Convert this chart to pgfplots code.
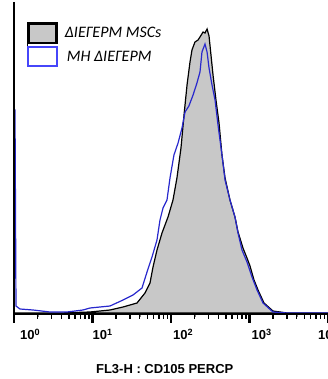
\documentclass[border=0pt]{standalone}
\usepackage{pgfplots}
\pgfplotsset{compat=1.18}
\usepackage{fontspec}
\setmainfont{Liberation Sans}
\newfontfamily\legendfont{Carlito}
\definecolor{histgray}{RGB}{200,200,200}
\definecolor{histblue}{RGB}{40,40,205}
\definecolor{boxblue}{RGB}{70,70,250}

% CD105 PerCP histograms (FL3-H), stimulated vs. unstimulated MSCs
\pgfplotstableread{
x      count
1      0
3.85   0
9.29   1
16.7   3
24.5   6
36.9   10
46.6   20
54.0   30
59.0   46
66.3   63
76.8   80
91.6   96
106    113
119    135
134    165
146.5  198
160    228
174.6  251
185    263
202    271
221    273
234    276
256    281
271    280
288    284
305    277
323    258
343    238
374    213
409    190
446    158
488    135
564    113
653    96
714    81
826    65
929    55
1015   47
1141   33
1283   23
1530   10
1991   2
3006   0
10000  0
}\stimulated

\pgfplotstableread{
x      count
1      0
1      203
1.03   203
1.06   7
1.19   4
1.75   3
2.87   1
4.73   1
7.57   3
9.29   5
16.7   7
24.5   13
32.8   18
42.7   25
49.5   41
57.3   56
66.3   73
72.4   93
79.1   105
88.9   113
97.1   135
109    158
123    170
138    185
151    201
169    207
191    218
214    230
234    241
248    261
271    269
288    261
305    245
333    228
364    213
397    188
446    158
488    133
564    113
653    96
714    80
802    63
929    51
1076   36
1247   23
1486   10
1991   1
3006   0
10000  0
}\unstimulated

\begin{document}
\begin{tikzpicture}
\begin{axis}[
  at={(14pt,65pt)}, anchor=south west,
  scale only axis, width=314pt, height=312pt,
  xmode=log, xmin=1, xmax=10000, ymin=-1, ymax=311,
  axis line style={draw=none},
  ytick=\empty,
  xtick pos=left,
  xtick={1,10,100,1000,10000},
  minor xtick={},
  xticklabels={\hspace*{6pt}10\textsuperscript{0},10\textsuperscript{1},\hspace*{2pt}10\textsuperscript{2},\hspace*{2pt}10\textsuperscript{3},\hspace*{-10pt}10\textsuperscript{4}},
  tick align=outside,
  major tick length=9pt,
  xticklabel style={anchor=north west, inner sep=0pt, yshift=-6pt, font=\bfseries\fontsize{13}{13}\selectfont},
  xlabel={FL3-H : CD105 PERCP},
  xlabel style={at={(axis description cs:0.48,0)}, anchor=north, inner sep=0pt, yshift=-50pt, font=\bfseries\fontsize{13}{13}\selectfont},
  clip=false,
  legend style={draw=none, fill=none, at={(rel axis cs:0.04,0.935)}, anchor=north west, inner sep=0pt,
    font=\legendfont\itshape\fontsize{16}{16}\selectfont},
  legend cell align=left,
]
\addplot[draw=black, line width=1.2pt, fill=histgray, forget plot] table[x=x,y=count] {\stimulated} \closedcycle;
\addplot[draw=histblue, line width=1.2pt, forget plot] table[x=x,y=count] {\unstimulated};

% left and bottom axis lines only
\draw[line width=1.6pt, black] (rel axis cs:0,1) -- (rel axis cs:0,0) -- (rel axis cs:1,0);
% anchor points for the decade and sub-decade tick marks
\pgfplotsinvokeforeach{1,10,100,1000,10000}{
  \coordinate (major#1) at (axis cs:#1,-1);
}
\pgfplotsinvokeforeach{2,3,4,5,6,7,8,9,20,30,40,50,60,70,80,90,200,300,400,500,600,700,800,900,2000,3000,4000,5000,6000,7000,8000,9000}{
  \coordinate (minor#1) at (axis cs:#1,-1);
}

\addlegendimage{legend image code/.code={\path (0pt,-12.5pt) -- (0pt,9.7pt); \draw[black, line width=2.6pt, fill=histgray] (1.3pt,-9.7pt) rectangle (29.7pt,9.7pt);}}
\addlegendentry{\hspace*{5pt}ΔΙΕΓΕΡΜ MSCs}
\addlegendimage{legend image code/.code={\draw[boxblue, line width=1.8pt, fill=white] (0.9pt,-9.6pt) rectangle (30.1pt,9.6pt);}}
\addlegendentry{\hspace*{7pt}ΜΗ ΔΙΕΓΕΡΜ}
\end{axis}
% tick marks below the x axis
\foreach \t in {1,10,100,1000,10000}
  \draw[line width=2.4pt, black] (major\t) -- ++(0pt,-9pt);
\foreach \t in {2,3,4,5,6,7,8,9,20,30,40,50,60,70,80,90,200,300,400,500,600,700,800,900,2000,3000,4000,5000,6000,7000,8000,9000}
  \draw[line width=1.4pt, black] (minor\t) -- ++(0pt,-5pt);
% page frame: the last decade label runs past the right edge
\pgfresetboundingbox
\useasboundingbox (0pt,0pt) rectangle (328pt,379pt);
\end{tikzpicture}
\end{document}
